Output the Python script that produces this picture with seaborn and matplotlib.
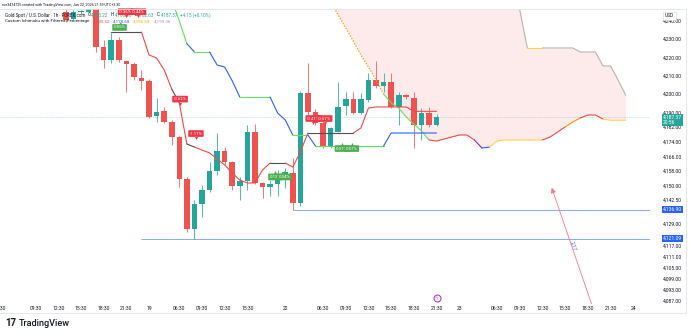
import numpy as np
import pandas as pd
import matplotlib
matplotlib.use("Agg")
import matplotlib.pyplot as plt
import matplotlib.transforms as mtrans
import seaborn as sns

# ---------------- data (bar index k: 0 = last candle, Jun 22 21:30) ----------------
bar_k = list(range(-49, 1))
opens = [4244.7, 4241.0, 4244.6, 4245.0, 4247.5, 4225.6, 4218.5, 4229.5, 4218.0, 4216.4,
         4208.7, 4207.1, 4188.0, 4190.7, 4184.7, 4176.5, 4153.6, 4126.3, 4139.9, 4147.6,
         4157.9, 4168.9, 4162.9, 4149.8, 4152.5, 4179.2, 4151.4, 4149.2, 4150.9, 4155.2,
         4157.0, 4140.5, 4200.5, 4190.2, 4184.1, 4171.0, 4179.2, 4193.4, 4197.2, 4189.6,
         4196.7, 4207.6, 4204.3, 4206.5, 4192.9, 4199.4, 4197.8, 4183.1, 4189.6, 4183.22]
highs = [4246.5, 4246.0, 4246.0, 4249.0, 4248.5, 4229.5, 4233.3, 4231.1, 4218.5, 4217.4,
         4213.1, 4208.0, 4197.8, 4192.9, 4185.8, 4177.0, 4154.7, 4142.1, 4150.3, 4162.9,
         4178.7, 4171.0, 4163.5, 4154.7, 4183.1, 4183.6, 4152.0, 4153.0, 4158.5, 4159.6,
         4165.0, 4201.5, 4217.0, 4192.0, 4185.0, 4182.0, 4206.5, 4201.1, 4201.1, 4200.5,
         4211.4, 4218.0, 4211.4, 4211.4, 4201.1, 4199.8, 4201.1, 4192.3, 4192.9, 4188.90]
lows = [4239.5, 4240.0, 4243.8, 4244.0, 4222.9, 4214.2, 4216.9, 4217.4, 4201.1, 4207.7,
        4202.2, 4186.9, 4184.7, 4184.1, 4172.1, 4149.2, 4124.6, 4121.09, 4132.8, 4146.5,
        4155.8, 4161.2, 4147.6, 4142.1, 4147.6, 4150.9, 4143.2, 4144.3, 4144.3, 4148.7,
        4136.90, 4139.0, 4188.6, 4183.0, 4170.5, 4170.5, 4179.0, 4188.5, 4189.0, 4189.0,
        4195.6, 4203.0, 4201.1, 4192.3, 4183.1, 4197.0, 4170.5, 4174.9, 4182.0, 4182.63]
closes = [4240.4, 4244.7, 4245.0, 4248.0, 4225.8, 4218.5, 4229.5, 4218.5, 4216.4, 4209.3,
          4207.1, 4187.4, 4190.2, 4184.7, 4176.5, 4153.6, 4126.3, 4139.9, 4147.6, 4157.9,
          4168.9, 4162.9, 4149.8, 4152.5, 4179.2, 4151.4, 4149.2, 4150.9, 4155.8, 4157.4,
          4140.5, 4200.5, 4190.2, 4184.1, 4171.0, 4181.4, 4192.9, 4197.2, 4189.6, 4197.2,
          4207.6, 4204.3, 4206.5, 4192.9, 4199.4, 4198.3, 4183.1, 4189.6, 4183.22, 4187.37]

# conversion line (Tenkan)
tenkan_k = list(range(-43, 1))
tenkan = [4233.8, 4233.8, 4233.8, 4233.8, 4233.8, 4221.3, 4219.6, 4213.1, 4202.7, 4195.1,
          4172.7, 4171.0, 4169.4, 4167.8, 4164.5, 4161.2, 4156.9, 4153.0, 4151.4, 4151.4,
          4158.5, 4162.3, 4162.3, 4162.3, 4160.1, 4168.3, 4178.7, 4178.7, 4178.7, 4178.7,
          4178.7, 4178.7, 4178.7, 4181.4, 4192.3, 4192.9, 4192.9, 4192.9, 4192.9, 4192.9,
          4190.52, 4190.52, 4190.52, 4190.52]
tenkan_col = (["g"] * 5 + ["r"] * 4 + ["g", "r", "g"] + ["r"] * 10 + ["g"] * 2 + ["r"] * 3
              + ["g"] * 6 + ["r"] * 11)

# base line (Kijun)
kijun_k = list(range(-35, 1))
kijun = [4251.8, 4239.8, 4227.5, 4222.9, 4222.9, 4222.9, 4215.8, 4214.7, 4207.1, 4198.3,
         4198.3, 4198.3, 4198.3, 4198.3, 4189.6, 4185.8, 4177.6, 4177.6, 4177.6, 4171.6,
         4171.6, 4171.6, 4171.6, 4171.6, 4171.6, 4171.6, 4171.6, 4171.6, 4171.6, 4178.68,
         4178.68, 4178.68, 4178.68, 4178.68, 4178.68, 4178.68]
kijun_col = (["G", "G", "G", "B", "G", "G", "B", "B", "B", "B", "G", "G", "G", "G",
              "B", "B", "B", "G", "G", "B"] + ["G"] * 9 + ["B"] * 7)

# leading spans (cloud)
span_k = list(range(-18, 26))
span_a = [4258.0, 4256.0, 4254.0, 4252.0, 4250.2, 4243.1, 4236.0, 4228.9, 4221.3, 4214.7,
          4207.6, 4200.0, 4195.1, 4192.3, 4187.4, 4183.6, 4179.8, 4174.9, 4174.3, 4175.4,
          4176.5, 4177.6, 4177.6, 4174.9, 4170.5, 4171.0, 4174.3, 4174.9, 4174.9, 4174.9,
          4174.9, 4174.9, 4174.9, 4176.5, 4179.2, 4182.0, 4184.7, 4186.9, 4188.5, 4188.5,
          4186.3, 4185.68, 4185.68, 4185.68]
span_a_col = (["o"] * 12 + ["G"] * 6 + ["r"] * 6 + ["p", "B"] + ["y"] * 7 + ["r"] * 3
              + ["O", "O"] + ["r"] * 3 + ["y"] * 3)
span_b = [4270.0] * 28 + [4262.0, 4245.8, 4225.1, 4225.1, 4225.1, 4225.1, 4225.1, 4225.1,
                          4225.1, 4222.9, 4222.9, 4222.9, 4215.3, 4215.3, 4207.6, 4199.36]
span_b_col = ["k"] * 31 + ["y", "y"] + ["k"] * 11

# horizontal levels
level_prices = [4136.90, 4121.09]
level_start_k = [-19, -39]
last_price = 4187.37

# percentage labels
lab_k = [-41.9, -33.9, -31.8, -21.3, -20.1, -16.3, -14.8, -12.5, -11.2, -41.1, -39.4]
lab_price = [4236.3, 4197.2, 4178.4, 4154.7, 4154.7, 4186.6, 4186.6, 4170.2, 4170.2,
             4244.9, 4244.9]
lab_text = ["0.55%", "-0.62%", "-1.11%", "0.12%", "0.04%", "-0.41%", "-0.57%", "0.31%",
            "0.57%", "-0.36%", "-0.44%"]
lab_up = [True, False, False, True, True, False, False, True, True, False, False]

# axes ticks
time_k = [-57.7, -53, -50, -47, -44, -41, -38, -34, -31, -28, -25, -20, -15, -12, -9, -6,
          -3, 0, 3, 8, 11, 14, 17, 20, 23, 26]
time_lab = ["06:30", "09:30", "12:30", "15:30", "18:30", "21:30", "19", "06:30", "09:30",
            "12:30", "15:30", "22", "06:30", "09:30", "12:30", "15:30", "18:30", "21:30",
            "23", "06:30", "09:30", "12:30", "15:30", "18:30", "21:30", "24"]
price_ticks = [4240, 4230, 4220, 4210, 4200, 4190, 4182, 4174, 4166, 4158, 4150, 4142.5,
               4129, 4117, 4111, 4105, 4099, 4093, 4087]

# ---------------- style ----------------
W, H = 690, 335
sns.set_theme(style="white")
FONT = ["Roboto", "DejaVu Sans"]
plt.rcParams["font.family"] = FONT
UP, DN = "#26a69a", "#ef5350"
TXT = "#131722"
COLS = {"g": "#505050", "r": "#f04a4a", "G": "#5fe35f", "B": "#2962ff", "o": "#ff9800",
        "O": "#ff9800", "y": "#ffd54f", "p": "#9c27b0", "k": "#b5b5b5"}

fig = plt.figure(figsize=(W / 100, H / 100), dpi=100)
fig.patch.set_facecolor("white")
ax = fig.add_axes([0, 1 - 302 / H, 650 / W, (302 - 9) / H])
ax.set_facecolor("white")
X0, DX = 435.0, 7.62
ax.set_xlim((0 - X0) / DX, (650 - X0) / DX)
ax.set_ylim(4230 - (302 - 39) / 1.832, 4230 + (39 - 9) / 1.832)
for s in ax.spines.values():
    s.set_visible(False)

# cloud fill
sa = np.array(span_a)
sb = np.array(span_b)
ax.fill_between(span_k, sa, sb, where=sb >= sa, color="#fdeaeb", lw=0, zorder=1,
                interpolate=True)


def pieces(ks, vals, cols):
    out = []
    s = 0
    for i in range(1, len(ks)):
        if i == len(ks) - 1 or cols[i + 1] != cols[i]:
            out.append((ks[s:i + 1], vals[s:i + 1], cols[i]))
            s = i
    return out


def draw_colored(ks, vals, cols, lw, skip=()):
    rows, pal = [], {}
    for j, (pk, pv, c) in enumerate(pieces(ks, vals, cols)):
        if c in skip:
            ax.plot(pk, pv, color=COLS[c], lw=lw, ls=(0, (1.3, 1.3)), zorder=4)
            continue
        pid = f"p{j}"
        pal[pid] = COLS[c]
        rows += [(x, v, pid) for x, v in zip(pk, pv)]
    df = pd.DataFrame(rows, columns=["k", "v", "piece"])
    sns.lineplot(data=df, x="k", y="v", hue="piece", palette=pal, estimator=None,
                 sort=False, legend=False, lw=lw, ax=ax, zorder=4)


draw_colored(span_k, span_b, span_b_col, 0.8)
draw_colored(span_k, span_a, span_a_col, 0.8, skip=("o",))

# current price line and levels
ax.axhline(last_price, color=UP, lw=0.5, ls=(0, (1, 1.5)), alpha=0.5, zorder=2)
x_right = ax.get_xlim()[1]
for p, ks in zip(level_prices, level_start_k):
    ax.hlines(p, ks, x_right, color="#2962ff", lw=0.7, alpha=0.55, zorder=2)

# candles
o = np.array(opens); c = np.array(closes); hi = np.array(highs); lo = np.array(lows)
col = np.where(c >= o, UP, DN)
ax.vlines(bar_k, lo, hi, colors=col, lw=0.55, zorder=3)
body = np.maximum(np.abs(c - o), 0.5)
ax.bar(bar_k, body, bottom=np.minimum(o, c), width=0.74, color=col, lw=0, zorder=3)

# ichimoku lines
draw_colored(kijun_k, kijun, kijun_col, 0.8)
draw_colored(tenkan_k, tenkan, tenkan_col, 0.8)

ax.set_xlabel(""); ax.set_ylabel("")

# ticks
ax.set_xticks(time_k)
ax.set_xticklabels(time_lab, fontsize=3.6, color=TXT)
ax.tick_params(axis="x", length=0, pad=2.6)
ax.yaxis.tick_right()
ax.set_yticks(price_ticks)
ax.set_yticklabels([f"{v:,.2f}" for v in price_ticks], fontsize=3.6, color=TXT)
ax.tick_params(axis="y", length=0, pad=9.0)
for t in ax.get_yticklabels():
    t.set_ha("left")

# percentage labels
for kx, p, t, up in zip(lab_k, lab_price, lab_text, lab_up):
    fc = "#4caf50" if up else "#f23645"
    ax.text(kx, p, t, fontsize=3.2, color="white", ha="center", va="center", zorder=9,
            bbox=dict(boxstyle="round,pad=0.3,rounding_size=0.15", fc=fc, ec="none"))
    dy = 2.6 if up else -2.6
    ax.plot(kx, p + dy, marker="^" if up else "v", ms=2.2, color=fc, mec="none", zorder=9)

# right scale boxes
btr = mtrans.blended_transform_factory(ax.transAxes, ax.transData)
xb = 663 / 650
ax.text(xb, last_price - 1.6, "4,187.37\n20:56", transform=btr, fontsize=3.6, color="white",
        ha="left", va="center", linespacing=1.05, zorder=10, clip_on=False,
        bbox=dict(boxstyle="square,pad=0.25", fc=UP, ec="none"))
for p in level_prices:
    ax.text(xb, p, f"{p:,.2f}", transform=btr, fontsize=3.6, color="white", ha="left",
            va="center", zorder=10, clip_on=False,
            bbox=dict(boxstyle="square,pad=0.25", fc="#2962ff", ec="none"))
ax.text(665 / 650, 4230 + (39 - 16) / 1.832, "USD", transform=btr, fontsize=3.4, color=TXT,
        ha="left", va="center", zorder=10, clip_on=False,
        bbox=dict(boxstyle="square,pad=0.35", fc="white", ec="#d1d4dc", lw=0.4))

# drawing: arrow ray with value
ax.annotate("", xy=(15.1, 4150.3), xytext=(20.6, 4084.0),
            arrowprops=dict(arrowstyle="-|>,head_length=0.25,head_width=0.12",
                            color="#f77c80", lw=0.6), zorder=5, annotation_clip=False)
ax.text(18.0, 4117.0, "2.17", fontsize=3.6, color="#2962ff", rotation=-71, ha="center",
        va="center", zorder=6)

# event marker
ax.plot(0, 4088.6, "o", ms=5, mfc="white", mec="#ab47bc", mew=0.8, zorder=6, clip_on=False)
ax.text(0, 4088.6, "ϟ", fontsize=3.4, color="#ab47bc", ha="center", va="center", zorder=7,
        family=["DejaVu Sans"])

# ---------------- header / legend ----------------
fig.canvas.draw()
rend = fig.canvas.get_renderer()


def fit_text(x, y, s, target_w, color, zorder=6):
    t = ax.text(x / W, 1 - y / H, s, transform=fig.transFigure, fontsize=4, color=color,
                ha="left", va="center", zorder=zorder)
    w = t.get_window_extent(renderer=rend).width
    t.set_fontsize(4 * target_w / w)
    return t


def seq(parts, x0, y, fs):
    x = x0
    for s, color, gap in parts:
        t = ax.text(x / W, 1 - y / H, s, transform=fig.transFigure, fontsize=fs,
                    color=color, ha="left", va="center", zorder=6)
        x = t.get_window_extent(renderer=rend).x1 + gap


hdr = fit_text(2, 4.6, "roe3474725 created with TradingView.com, Jun 22, 2026 21:59 UTC+3:30",
               118, TXT)
n1 = fit_text(5, 15, "Gold Spot / U.S. Dollar · 1h · FOREX.com", 80, TXT)
fs1 = n1.get_fontsize()
n1_end = n1.get_window_extent(renderer=rend).x1
seq([("O", TXT, 0.4), ("4,183.22", UP, 2.6), ("H", TXT, 0.4), ("4,188.90", UP, 2.6),
     ("L", TXT, 0.4), ("4,182.63", UP, 2.6), ("C", TXT, 0.4), ("4,187.37", UP, 2.6),
     ("+4.15 (+0.10%)", UP, 0)], n1_end + 2.5, 15, fs1)
n2 = fit_text(5, 21, "Custom Ichimoku with Filtered Percentage", 83, TXT)
n2_end = n2.get_window_extent(renderer=rend).x1
seq([("4,190.52", "#f04a4a", 3), ("4,178.68", "#2962ff", 3), ("4,185.68", "#ffb300", 3),
     ("4,199.36", "#9e9e9e", 0)], n2_end + 3, 21, n2.get_fontsize())

# frame lines
for y in (9, 313):
    fig.add_artist(plt.Line2D([0, 686 / W], [1 - y / H] * 2, color="#e0e3eb", lw=0.6))
fig.add_artist(plt.Line2D([686 / W] * 2, [1 - 9 / H, 1 - 313 / H], color="#e0e3eb", lw=0.6))

# TradingView logo
fig.text(5 / W, 1 - 323 / H, "17", fontsize=7, fontweight="bold", color=TXT, va="center",
         ha="left")
fig.text(19 / W, 1 - 323 / H, "TradingView", fontsize=6.6, fontweight="medium", color=TXT,
         va="center", ha="left")

fig.savefig("out.png", dpi=100)
